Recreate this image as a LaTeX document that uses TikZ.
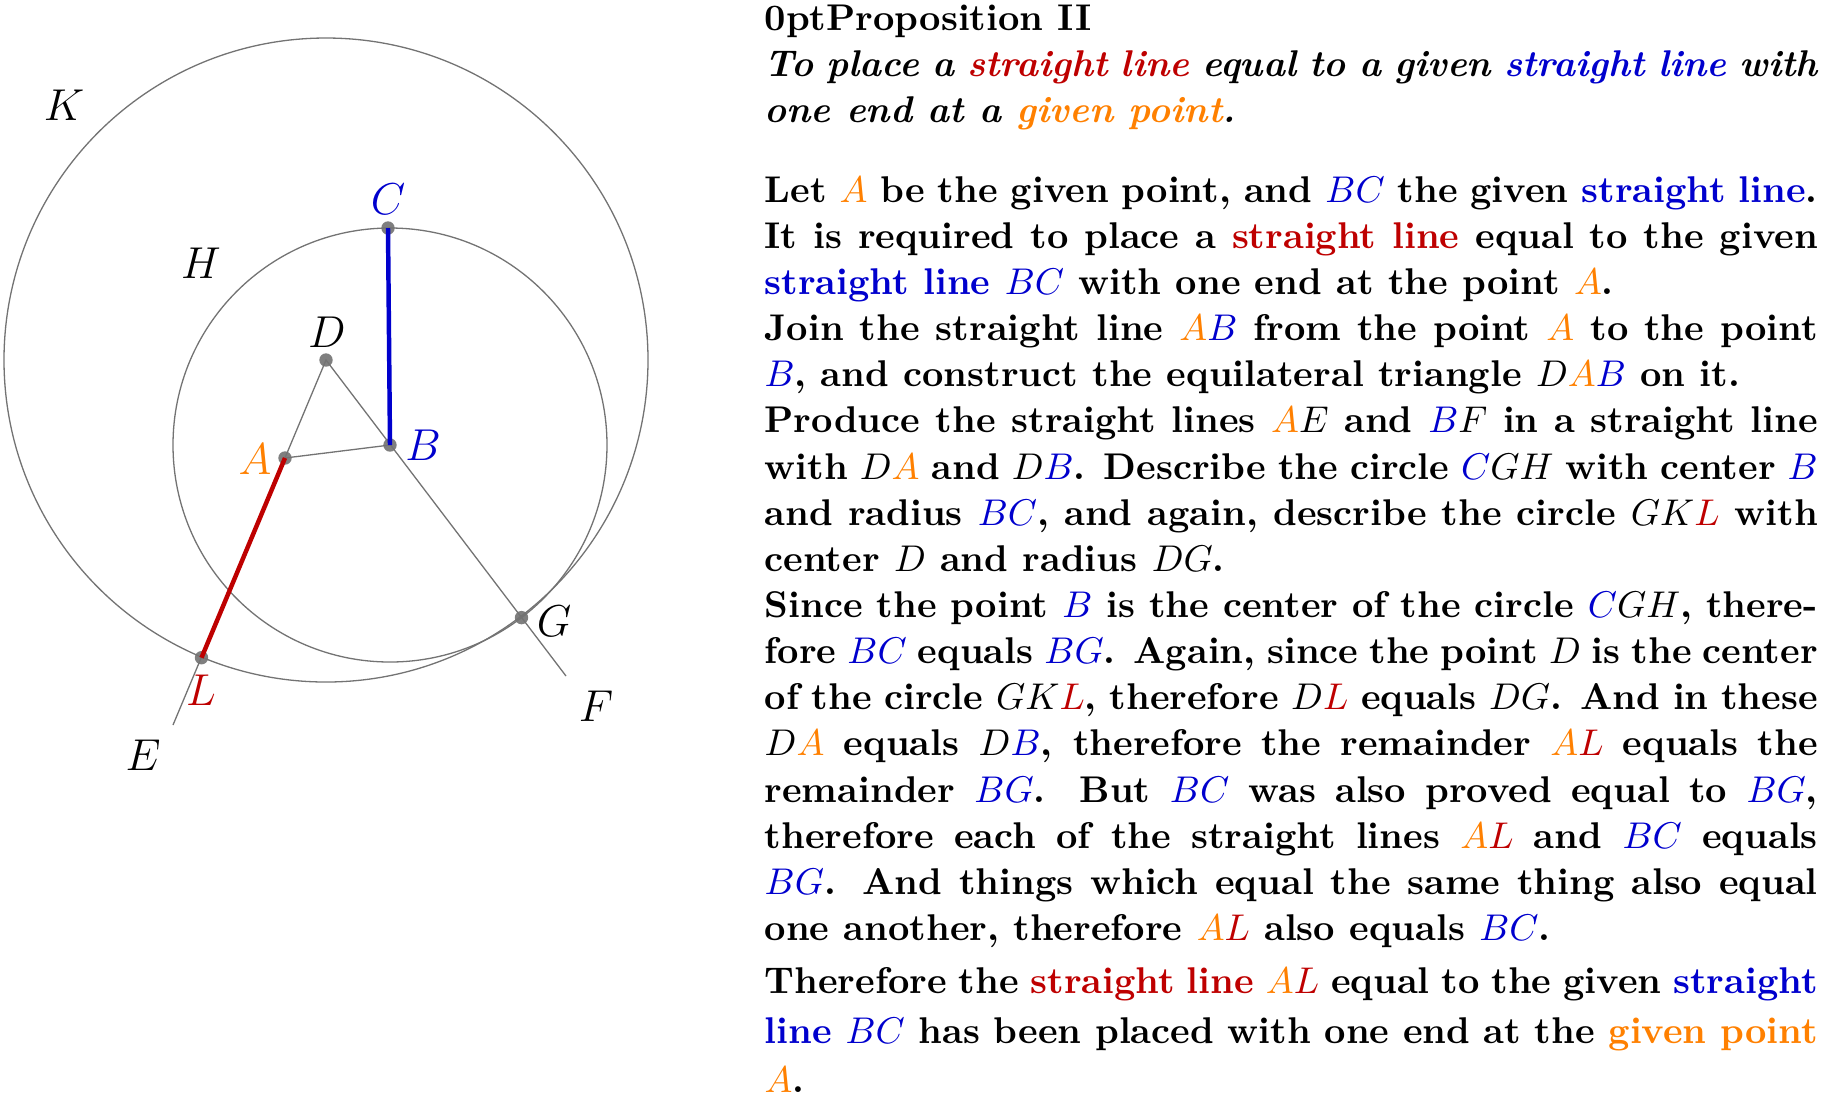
\documentclass[tikz,border=0pt]{standalone}
\usepackage{amsmath,amssymb}
\usepackage{tikz}
\usetikzlibrary{calc}
\usepackage{xcolor}
\definecolor{eorange}{RGB}{255,128,0}
\definecolor{eblue}{RGB}{0,0,205}
\definecolor{ered}{RGB}{190,0,0}
\newcommand{\oA}{\textcolor{eorange}{A}}
\newcommand{\bB}{\textcolor{eblue}{B}}
\newcommand{\bC}{\textcolor{eblue}{C}}
\newcommand{\bG}{\textcolor{eblue}{G}}
\newcommand{\rL}{\textcolor{ered}{L}}
\newcommand{\sline}{\textcolor{eblue}{straight line}}
\newcommand{\rline}{\textcolor{ered}{straight line}}
\begin{document}
\begin{tikzpicture}[x={(0.00945cm,0)},y={(0,-0.00945cm)},
    pt/.style={circle,fill=black,fill opacity=0.5,inner sep=0pt,minimum size=3.6pt},
    lbl/.style={font=\large},
    thin line/.style={draw=black!55,line width=0.35pt}]
        \useasboundingbox (0,0) rectangle (1832,1096);
        % the points
        \node[pt] (D) at (326,360) {};
        \node[pt] (A) at (285,458) {};
        \node[pt] (B) at (390,445) {};
        \node[pt] (C) at (388,228) {};
        \node[pt] (G) at (521.5,617.6) {};
        \node[pt] (L) at (201.5,657.7) {};
        \coordinate (E) at (173,725);
        \coordinate (F) at (566,676);
        % circles and lines
        \draw[thin line] (B.center) circle (217);
        \draw[thin line] (D.center) circle (322);
        \draw[thin line] (E)--(D.center)--(F);
        \draw[thin line] (A.center)--(B.center);
        \draw[eblue,line width=1.2pt] (B.center)--(C.center);
        \draw[ered,line width=1.2pt] (A.center)--(L.center);
        % the labels
        \node[lbl] (lK) at (64,105) {$K$};
        \node[lbl] (lH) at (201,263) {$H$};
        \node[lbl] (lC) at (388,199) {$\bC$};
        \node[lbl] (lD) at (327,332) {$D$};
        \node[lbl] (lA) at (255,459) {$\oA$};
        \node[lbl] (lB) at (423,445) {$\bB$};
        \node[lbl] (lG) at (554,621) {$G$};
        \node[lbl] (lL) at (201,690) {$\rL$};
        \node[lbl] (lE) at (143,755) {$E$};
        \node[lbl] (lF) at (596,706) {$F$};
        % the text
        \node[anchor=north west,inner sep=0pt,text width=283pt,align=justify,font=\bfseries\baselineskip=12.4pt] (txt) at (764,4) {%
        \baselineskip=12.4pt
        Proposition II\par
        \textit{To place a \rline{} equal to a given \sline{} with one end at a \textcolor{eorange}{given point}.}\par
        \vspace{9pt}
        Let $\oA$ be the given point, and $\bB\bC$ the given \sline. It is required to place a \rline{} equal to the given \sline{} $\bB\bC$ with one end at the point $\oA$.\par
        Join the straight line $\oA\bB$ from the point $\oA$ to the point $\bB$, and construct the equilateral triangle $D\oA\bB$ on it.\par
        Produce the straight lines $\oA E$ and $\bB F$ in a straight line with $D\oA$ and $D\bB$. Describe the circle $\bC GH$ with center $\bB$ and radius $\bB\bC$, and again, describe the circle $GK\rL$ with center $D$ and radius $DG$.\par
        Since the point $\bB$ is the center of the circle $\bC GH$, therefore $\bB\bC$ equals $\bB\bG$. Again, since the point $D$ is the center of the circle $GK\rL$, therefore $D\rL$ equals $DG$. And in these $D\oA$ equals $D\bB$, therefore the remainder $\oA\rL$ equals the remainder $\bB\bG$. But $\bB\bC$ was also proved equal to $\bB\bG$, therefore each of the straight lines $\oA\rL$ and $\bB\bC$ equals $\bB\bG$. And things which equal the same thing also equal one another, therefore $\oA\rL$ also equals $\bB\bC$.\par
        \vspace{1pt}
        {\baselineskip=13.3pt Therefore the \rline{} $\oA\rL$ equal to the given \sline{} $\bB\bC$ has been placed with one end at the \textcolor{eorange}{given point} $\oA$.\par}};
    \end{tikzpicture}
\end{document}
